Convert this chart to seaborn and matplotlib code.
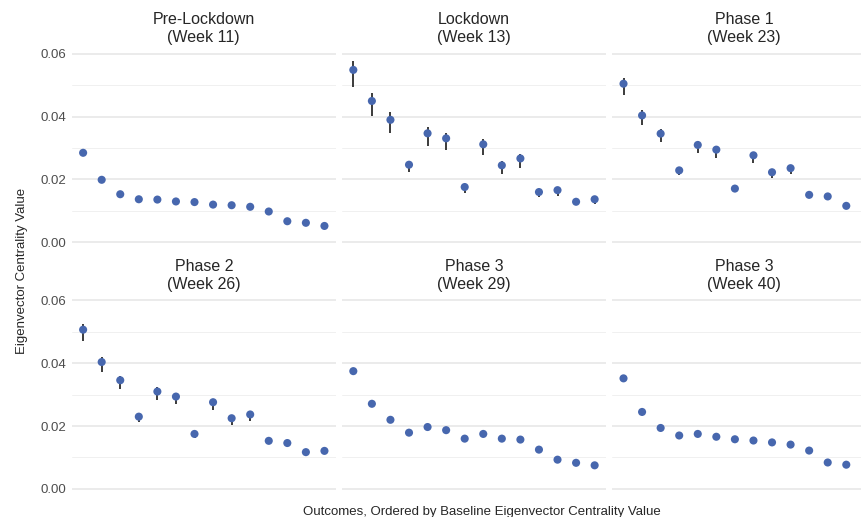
import numpy as np
import pandas as pd
import matplotlib
matplotlib.use("Agg")
import matplotlib.pyplot as plt
import seaborn as sns

# panel labels (one facet each)
periods = ["Pre-Lockdown\n(Week 11)", "Lockdown\n(Week 13)", "Phase 1\n(Week 23)",
           "Phase 2\n(Week 26)", "Phase 3\n(Week 29)", "Phase 3\n(Week 40)"]

# estimates per outcome, ordered by baseline centrality
pre_lockdown_est = [0.0285, 0.0199, 0.0153, 0.0137, 0.0136, 0.0130, 0.0128,
                    0.0120, 0.0118, 0.0113, 0.0098, 0.0067, 0.0062, 0.0052]

lockdown_est = [0.0549, 0.0450, 0.0390, 0.0247, 0.0347, 0.0331, 0.0176,
                0.0312, 0.0245, 0.0267, 0.0160, 0.0166, 0.0129, 0.0137]
lockdown_lo = [0.0494, 0.0401, 0.0348, 0.0223, 0.0307, 0.0295, 0.0156,
               0.0277, 0.0217, 0.0237, 0.0144, 0.0148, 0.0125, 0.0121]
lockdown_hi = [0.0578, 0.0474, 0.0414, 0.0250, 0.0368, 0.0348, 0.0180,
               0.0330, 0.0260, 0.0281, 0.0163, 0.0177, 0.0132, 0.0140]

phase1_est = [0.0505, 0.0404, 0.0346, 0.0229, 0.0310, 0.0295, 0.0171,
              0.0277, 0.0223, 0.0236, 0.0151, 0.0146, 0.0116]
phase1_lo = [0.0469, 0.0372, 0.0318, 0.0213, 0.0283, 0.0270, 0.0168,
             0.0253, 0.0205, 0.0219, 0.0150, 0.0145, 0.0115]
phase1_hi = [0.0522, 0.0420, 0.0360, 0.0232, 0.0323, 0.0302, 0.0173,
             0.0287, 0.0226, 0.0247, 0.0152, 0.0147, 0.0117]

phase2_est = [0.0507, 0.0404, 0.0346, 0.0230, 0.0310, 0.0294, 0.0175,
              0.0276, 0.0225, 0.0237, 0.0153, 0.0146, 0.0117, 0.0121]
phase2_lo = [0.0470, 0.0372, 0.0317, 0.0214, 0.0284, 0.0270, 0.0163,
             0.0252, 0.0205, 0.0217, 0.0151, 0.0144, 0.0115, 0.0119]
phase2_hi = [0.0525, 0.0420, 0.0360, 0.0233, 0.0323, 0.0300, 0.0177,
             0.0287, 0.0228, 0.0248, 0.0155, 0.0148, 0.0119, 0.0123]

phase3_wk29_est = [0.0375, 0.0271, 0.0220, 0.0179, 0.0197, 0.0187, 0.0160,
                   0.0175, 0.0160, 0.0157, 0.0125, 0.0093, 0.0083, 0.0075]

phase3_wk40_est = [0.0352, 0.0245, 0.0194, 0.0170, 0.0175, 0.0166, 0.0158,
                   0.0154, 0.0148, 0.0141, 0.0122, 0.0084, 0.0077]

POINT_COLOR = "#4767AE"


def panel_frame(period, est, lo=None, hi=None):
    n = len(est)
    return pd.DataFrame({
        "period": period,
        "rank": np.arange(1, n + 1),
        "est": est,
        "lo": lo if lo is not None else [np.nan] * n,
        "hi": hi if hi is not None else [np.nan] * n,
    })


df = pd.concat([
    panel_frame(periods[0], pre_lockdown_est),
    panel_frame(periods[1], lockdown_est, lockdown_lo, lockdown_hi),
    panel_frame(periods[2], phase1_est, phase1_lo, phase1_hi),
    panel_frame(periods[3], phase2_est, phase2_lo, phase2_hi),
    panel_frame(periods[4], phase3_wk29_est),
    panel_frame(periods[5], phase3_wk40_est),
], ignore_index=True)

sns.set_theme(style="white")
plt.rcParams["font.family"] = ["Liberation Sans", "DejaVu Sans"]


def draw_panel(data, **kws):
    ax = plt.gca()
    bars = data.dropna(subset=["lo", "hi"])
    ax.vlines(bars["rank"], bars["lo"], bars["hi"], color="#1A1A1A", lw=1.2, zorder=2)
    sns.scatterplot(data=data, x="rank", y="est", ax=ax, color=POINT_COLOR,
                    s=34, edgecolor="none", zorder=3, legend=False)


g = sns.FacetGrid(df, col="period", col_wrap=3, col_order=periods,
                  sharex=True, sharey=True, height=2.5, aspect=1.3)
g.map_dataframe(draw_panel)
g.figure.set_size_inches(8.61, 5.17)
g.set_titles("{col_name}", size=11.5, color="#262626", pad=7, linespacing=1.25)
g.set_axis_labels("", "")

for ax in g.axes.flat:
    ax.set_xlim(0.4, 14.6)
    ax.set_ylim(-0.0029, 0.0607)
    ax.set_xticks([])
    ax.set_yticks([0.0, 0.02, 0.04, 0.06])
    ax.set_yticks([0.01, 0.03, 0.05], minor=True)
    ax.set_yticklabels(["0.00", "0.02", "0.04", "0.06"])
    ax.tick_params(axis="y", which="both", length=0, labelsize=9.5,
                   labelcolor="#4D4D4D", pad=4)
    ax.grid(axis="y", which="major", color="#E6E6E6", lw=1.1)
    ax.grid(axis="y", which="minor", color="#F0F0F0", lw=0.7)
    ax.grid(axis="x", visible=False)
    ax.set_axisbelow(True)
    for sp in ax.spines.values():
        sp.set_visible(False)
    if ax not in (g.axes[0], g.axes[3]):
        ax.tick_params(axis="y", labelleft=False)

g.figure.subplots_adjust(left=0.0836, right=1.0174, top=0.900, bottom=0.0368,
                         wspace=0.025, hspace=0.235)

g.figure.text(0.026, 0.476, "Eigenvector Centrality Value", rotation=90,
              ha="center", va="center", fontsize=9.5, color="#262626")
g.figure.text(0.56, 0.022, "Outcomes, Ordered by Baseline Eigenvector Centrality Value",
              ha="center", va="top", fontsize=9.5, color="#262626")

g.figure.savefig("out.png", dpi=100)
